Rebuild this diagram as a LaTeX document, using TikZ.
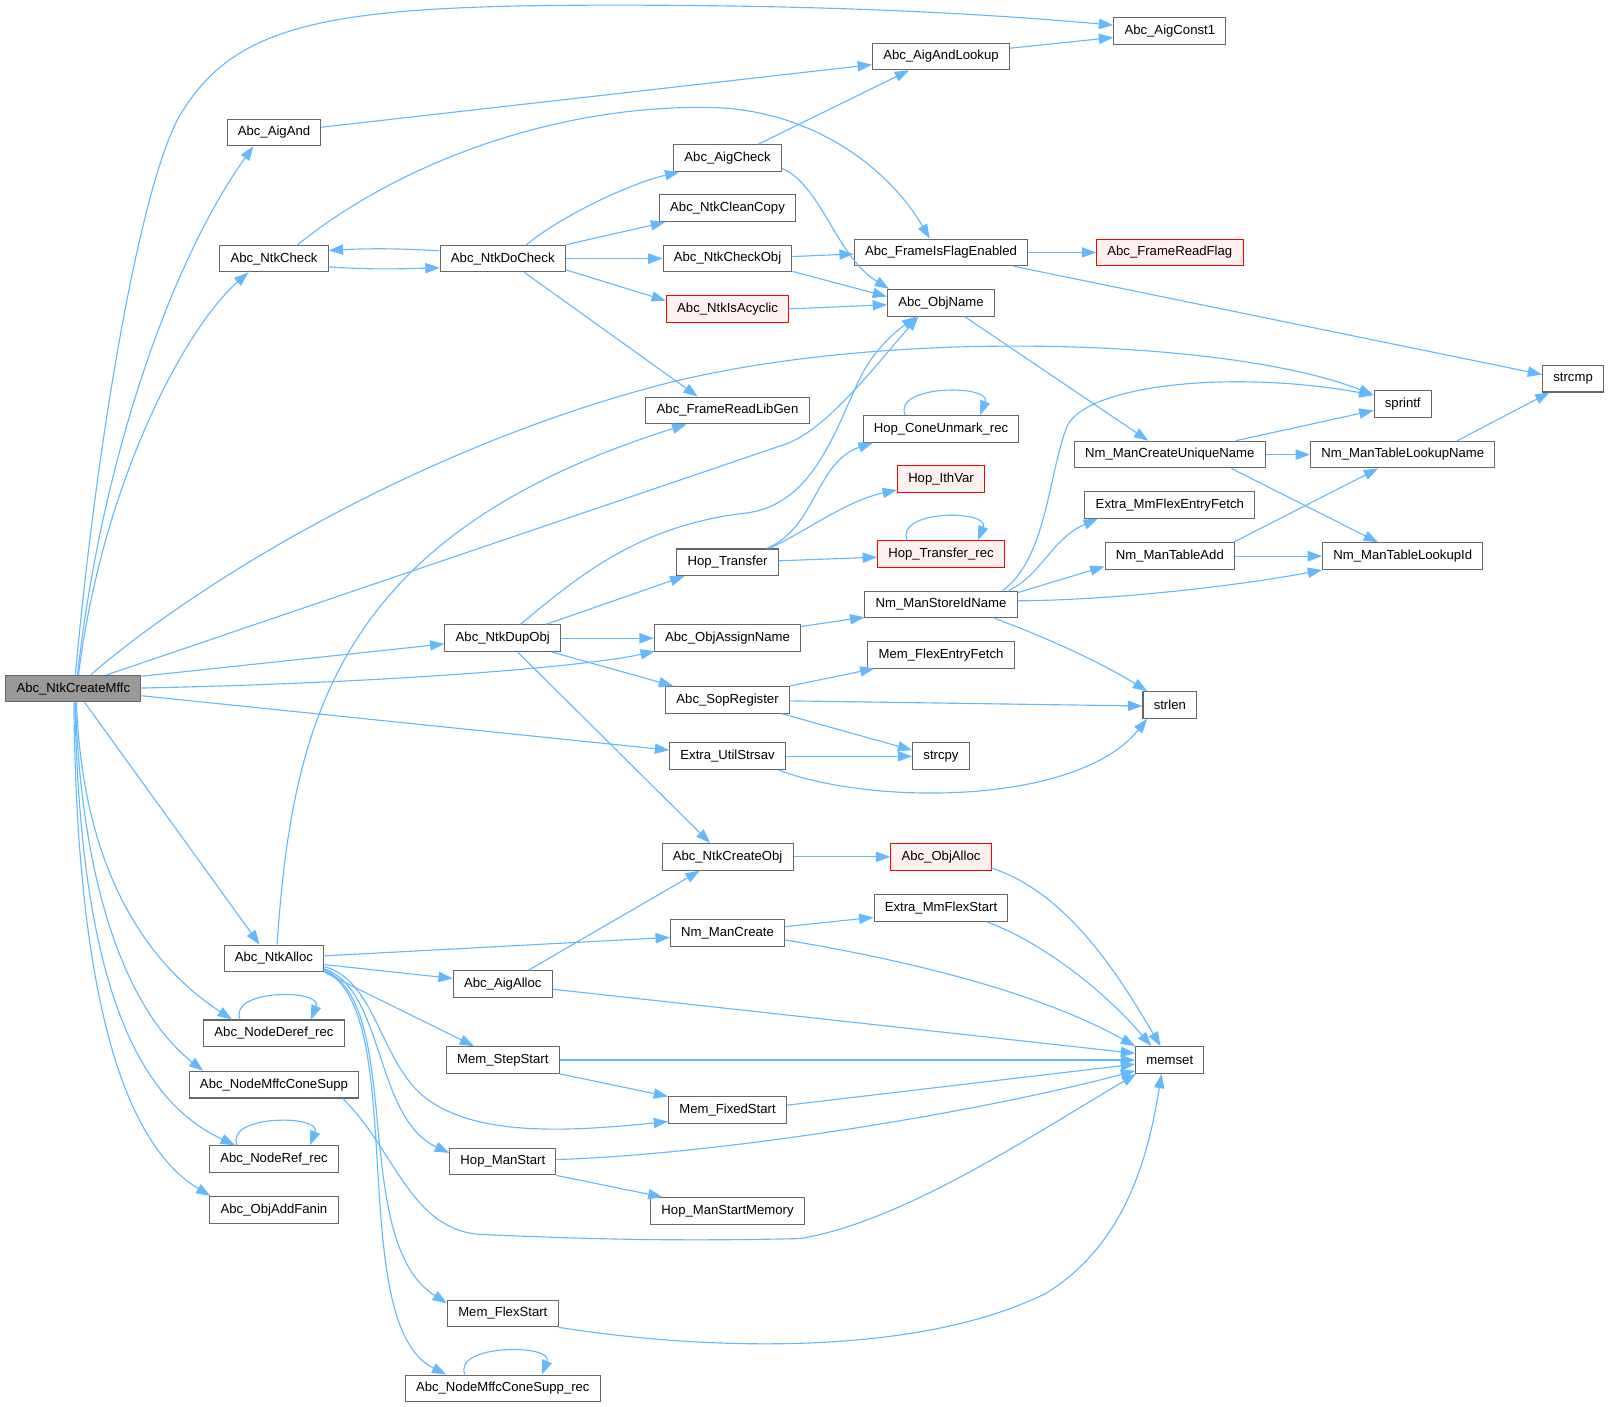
\documentclass[tikz,border=0pt]{standalone}
\usepackage{fontspec}
\setmainfont{Liberation Sans}
\usetikzlibrary{arrows.meta,calc}
\definecolor{eblue}{HTML}{63B8FF}
\definecolor{bgray}{HTML}{666666}
\definecolor{rootfill}{HTML}{999999}
\definecolor{redfill}{HTML}{FFF0F0}
\begin{document}
\begin{tikzpicture}[x=1pt,y=-1pt,
 fn/.style={draw=bgray, fill=white, line width=1pt, minimum height=26pt, inner xsep=10.5pt, inner ysep=0pt, font=\fontsize{12.8}{15}\selectfont, text=black},
 hot/.style={fn, draw=red, fill=redfill},
 root/.style={fn, fill=rootfill},
 cedge/.style={draw=eblue, line width=1.1pt, -{Triangle[length=14pt,width=10pt]}},
]
\useasboundingbox (0,0) rectangle (1568,1371);
% column 0
\node[root] (mffc) at (71.5,671) {Abc\_NtkCreateMffc};
% column 1
\node[fn] (aigand) at (267,129) {Abc\_AigAnd};
\node[fn] (ntkcheck) at (267,252) {Abc\_NtkCheck};
\node[fn] (ntkalloc) at (267,934) {Abc\_NtkAlloc};
\node[fn] (deref) at (267,1007) {Abc\_NodeDeref\_rec};
\node[fn] (conesupp) at (267,1057) {Abc\_NodeMffcConeSupp};
\node[fn] (noderef) at (267,1129.5) {Abc\_NodeRef\_rec};
\node[fn] (addfanin) at (267,1179) {Abc\_ObjAddFanin};
% column 2
\node[fn] (docheck) at (490,252) {Abc\_NtkDoCheck};
\node[fn] (dupobj) at (490,622) {Abc\_NtkDupObj};
\node[fn] (aigalloc) at (490,959) {Abc\_AigAlloc};
\node[fn] (stepstart) at (490,1033) {Mem\_StepStart};
\node[fn] (hopmanstart) at (490,1132) {Hop\_ManStart};
\node[fn] (flexstart) at (490,1280) {Mem\_FlexStart};
\node[fn] (conesupprec) at (490,1353) {Abc\_NodeMffcConeSupp\_rec};
% column 3
\node[fn] (aigcheck) at (709,154) {Abc\_AigCheck};
\node[fn] (cleancopy) at (709,203) {Abc\_NtkCleanCopy};
\node[fn] (checkobj) at (709,252) {Abc\_NtkCheckObj};
\node[hot] (acyclic) at (709,301) {Abc\_NtkIsAcyclic};
\node[fn] (libgen) at (709,400) {Abc\_FrameReadLibGen};
\node[fn] (transfer) at (709,548) {Hop\_Transfer};
\node[fn] (assign) at (709,622) {Abc\_ObjAssignName};
\node[fn] (sop) at (709,682) {Abc\_SopRegister};
\node[fn] (strsav) at (709,737) {Extra\_UtilStrsav};
\node[fn] (createobj) at (709,835) {Abc\_NtkCreateObj};
\node[fn] (nmcreate) at (709,909) {Nm\_ManCreate};
\node[fn] (fixedstart) at (709,1082) {Mem\_FixedStart};
\node[fn] (hopmem) at (709,1180) {Hop\_ManStartMemory};
% column 4
\node[fn] (andlookup) at (917,55) {Abc\_AigAndLookup};
\node[fn] (flagen) at (917,246) {Abc\_FrameIsFlagEnabled};
\node[fn] (objname) at (917,295) {Abc\_ObjName};
\node[fn] (coneunmark) at (917,418) {Hop\_ConeUnmark\_rec};
\node[hot] (ithvar) at (917,467) {Hop\_IthVar};
\node[hot] (transrec) at (917,540) {Hop\_Transfer\_rec};
\node[fn] (storeid) at (917,589) {Nm\_ManStoreIdName};
\node[fn] (memflexfetch) at (917,638) {Mem\_FlexEntryFetch};
\node[fn] (strcpy) at (917,737) {strcpy};
\node[hot] (objalloc) at (917,835) {Abc\_ObjAlloc};
\node[fn] (mmflexstart) at (917,885) {Extra\_MmFlexStart};
% column 5
\node[fn] (const1) at (1140,30) {Abc\_AigConst1};
\node[hot] (readflag) at (1140,246) {Abc\_FrameReadFlag};
\node[fn] (uniq) at (1140,443) {Nm\_ManCreateUniqueName};
\node[fn] (flexfetch) at (1140,492) {Extra\_MmFlexEntryFetch};
\node[fn] (tableadd) at (1140,542) {Nm\_ManTableAdd};
\node[fn] (strlen) at (1140,687) {strlen};
\node[fn] (memset) at (1140,1033) {memset};
% column 6
\node[fn] (sprintf) at (1367,394) {sprintf};
\node[fn] (lookupname) at (1367,443) {Nm\_ManTableLookupName};
\node[fn] (lookupid) at (1367,542) {Nm\_ManTableLookupId};
% column 7
\node[fn] (strcmp) at (1533,369) {strcmp};

% edges from the root
\draw[cedge] ($(mffc.north)+(2,0)$) .. controls (95,420) and (140,160) .. (180,105) .. controls (235,20) and (330,5) .. (600,5) .. controls (850,5) and (1000,17) .. ($(const1.west)+(0,-5.5)$);
\draw[cedge] ($(mffc.north)+(4,0)$) .. controls (100,440) and (170,250) .. ($(aigand.south)+(-20,0)$);
\draw[cedge] ($(mffc.north)+(5,0)$) .. controls (100,470) and (180,320) .. ($(ntkcheck.south)+(-25,0)$);
\draw[cedge] ($(mffc.north)+(17,0)$) .. controls (190,570) and (400,440) .. (640,376) .. controls (860,318) and (1200,330) .. ($(sprintf.west)+(0,-9)$);
\draw[cedge] ($(mffc.north)+(33,0)$) -- (765,433) .. controls (805,419) and (850,360) .. ($(objname.south)+(-22,0)$);
\draw[cedge] ($(mffc.east)+(0,-12)$) -- ($(dupobj.west)+(0,5.5)$);
\draw[cedge] ($(mffc.east)+(0,-0.5)$) .. controls (400,665) and (580,648) .. ($(assign.south west)+(1,-1)$);
\draw[cedge] ($(mffc.east)+(0,7)$) -- ($(strsav.west)+(0,-6)$);
\draw[cedge] ($(mffc.south)+(11,0)$) -- ($(ntkalloc.north)+(-14,0)$);
\draw[cedge] ($(mffc.south)+(3,0)$) .. controls (80,830) and (130,930) .. ($(deref.north)+(-41,0)$);
\draw[cedge] ($(mffc.south)+(2,0)$) .. controls (80,880) and (130,990) .. ($(conesupp.north)+(-69,0)$);
\draw[cedge] ($(mffc.south)+(1.5,0)$) .. controls (78,950) and (130,1070) .. ($(noderef.north)+(-38,0)$);
\draw[cedge] ($(mffc.south)+(0.5,0)$) .. controls (75,1000) and (130,1120) .. ($(addfanin.north west)+(1,0)$);

% upper part
\draw[cedge] ($(aigand.east)+(0,-5)$) -- ($(andlookup.west)+(0,8)$);
\draw[cedge] ($(andlookup.east)+(0,-8)$) -- ($(const1.west)+(0,6.5)$);
\draw[cedge] ($(aigcheck.north)+(30,0)$) -- ($(andlookup.south)+(-31,0)$);
\draw[cedge] ($(aigcheck.east)+(0,10)$) .. controls (800,180) and (815,250) .. ($(objname.north west)+(2,0)$);
\draw[cedge] ($(ntkcheck.north)+(23,0)$) .. controls (400,150) and (560,100) .. (700,105) .. controls (800,110) and (870,170) .. ($(flagen.north)+(-11,0)$);
\draw[cedge] ($(ntkcheck.east)+(0,8)$) .. controls (360,263) and (390,262) .. ($(docheck.west)+(0,9)$);
\draw[cedge] ($(docheck.west)+(0,-7.5)$) .. controls (390,242) and (360,242) .. ($(ntkcheck.east)+(0,-8)$);
\draw[cedge] ($(docheck.north)+(23,0)$) .. controls (545,212) and (610,180) .. ($(aigcheck.south west)+(6,0)$);
\draw[cedge] (docheck.north east) -- ($(cleancopy.south west)+(6,0)$);
\draw[cedge] (docheck.east) -- (checkobj.west);
\draw[cedge] ($(docheck.east)+(0,11)$) -- ($(acyclic.west)+(0,-8)$);
\draw[cedge] ($(docheck.south)+(21,0)$) -- ($(libgen.north)+(-29,0)$);
\draw[cedge] ($(checkobj.east)+(0,-2)$) -- ($(flagen.west)+(0,1.5)$);
\draw[cedge] ($(checkobj.south east)+(0,-1)$) -- ($(objname.west)+(0,-6)$);
\draw[cedge] (acyclic.east) -- ($(objname.west)+(0,2)$);
\draw[cedge] (flagen.east) -- (readflag.west);
\draw[cedge] ($(flagen.south east)+(-14,0)$) -- ($(strcmp.west)+(0,-4)$);
\draw[cedge] ($(objname.south)+(23,0)$) -- ($(uniq.north)+(-21,0)$);
\draw[cedge] ($(uniq.north)+(64,0)$) -- ($(sprintf.west)+(0,6)$);
\draw[cedge] (uniq.east) -- (lookupname.west);
\draw[cedge] ($(uniq.south)+(60,0)$) -- ($(lookupid.north)+(-24,0)$);
\draw[cedge] ($(lookupname.north)+(53,0)$) -- ($(strcmp.south)+(-23,0)$);

% middle part
\draw[cedge] ($(coneunmark.north)+(-35,0)$) .. controls +(-12,-30) and +(12,-30) .. ($(coneunmark.north)+(38,0)$);
\draw[cedge] ($(transfer.north)+(38,0)$) .. controls (795,515) and (795,450) .. ($(coneunmark.south west)+(10,0)$);
\draw[cedge] ($(transfer.north)+(41,0)$) .. controls (790,515) and (825,488) .. ($(ithvar.south west)+(0,-3)$);
\draw[cedge] ($(transfer.east)+(0,-1.5)$) -- ($(transrec.west)+(0,3)$);
\draw[cedge] ($(transrec.north)+(-33,0)$) .. controls +(-12,-30) and +(12,-30) .. ($(transrec.north)+(36,0)$);
\draw[cedge] ($(storeid.north)+(60,0)$) .. controls (1020,545) and (1022,460) .. (1040,415) .. controls (1060,375) and (1200,360) .. ($(sprintf.west)+(0,-9)$);
\draw[cedge] ($(storeid.north)+(66,0)$) .. controls (1015,560) and (1025,525) .. ($(flexfetch.south west)+(13,0)$);
\draw[cedge] ($(storeid.north east)+(0,2)$) -- ($(tableadd.west)+(0,10)$);
\draw[cedge] ($(storeid.east)+(0,-3.5)$) .. controls (1080,585) and (1200,572) .. (lookupid.south west);
\draw[cedge] ($(storeid.south)+(52,0)$) .. controls (1030,625) and (1080,650) .. ($(strlen.north)+(-22,0)$);
\draw[cedge] ($(tableadd.north)+(62,0)$) -- ($(lookupname.south)+(-24,0)$);
\draw[cedge] (tableadd.east) -- (lookupid.west);
\draw[cedge] ($(dupobj.north)+(17,0)$) .. controls (560,565) and (620,512) .. (727,500) .. controls (790,492) and (812,425) .. (835,375) .. controls (848,345) and (870,325) .. ($(objname.south)+(-24,0)$);
\draw[cedge] ($(dupobj.north)+(42,0)$) -- ($(transfer.south)+(-42,0)$);
\draw[cedge] (dupobj.east) -- (assign.west);
\draw[cedge] ($(dupobj.south)+(48,0)$) -- ($(sop.north)+(-53,0)$);
\draw[cedge] ($(dupobj.south)+(14.5,0)$) -- ($(createobj.north)+(-17,0)$);
\draw[cedge] ($(assign.north east)+(0,2)$) -- ($(storeid.south west)+(0,-1)$);
\draw[cedge] (sop.north east) -- ($(memflexfetch.south west)+(7,0)$);
\draw[cedge] ($(sop.east)+(0,1)$) -- ($(strlen.west)+(0,1)$);
\draw[cedge] ($(sop.south)+(53,0)$) -- ($(strcpy.west)+(0,-6)$);
\draw[cedge] (strsav.east) -- (strcpy.west);
\draw[cedge] ($(strsav.south)+(50,0)$) .. controls (850,785) and (1050,785) .. ($(strlen.south)+(-22,0)$);

% lower part
\draw[cedge] (createobj.east) -- (objalloc.west);
\draw[cedge] ($(objalloc.east)+(0,11)$) .. controls (1040,870) and (1090,950) .. ($(memset.north)+(-9,0)$);
\draw[cedge] ($(mmflexstart.south)+(45,0)$) .. controls (1020,920) and (1080,970) .. ($(memset.north)+(-18,0)$);
\draw[cedge] ($(nmcreate.east)+(0,-6)$) -- ($(mmflexstart.west)+(0,9)$);
\draw[cedge] ($(nmcreate.east)+(0,7)$) .. controls (850,930) and (1000,960) .. (memset.north west);
\draw[cedge] ($(ntkalloc.north)+(3,0)$) .. controls (285,700) and (330,520) .. ($(libgen.south)+(-40,0)$);
\draw[cedge] ($(ntkalloc.east)+(0,-2.5)$) -- ($(nmcreate.west)+(0,4.5)$);
\draw[cedge] ($(ntkalloc.east)+(0,6)$) -- ($(aigalloc.west)+(0,-5.5)$);
\draw[cedge] (ntkalloc.south east) -- ($(stepstart.north)+(-28,0)$);
\draw[cedge] ($(ntkalloc.east)+(0,8)$) .. controls (365,955) and (370,1030) .. (410,1066) .. controls (460,1110) and (560,1102) .. ($(fixedstart.west)+(0,11)$);
\draw[cedge] ($(ntkalloc.east)+(0,10)$) .. controls (375,965) and (365,1090) .. ($(hopmanstart.west)+(0,-8.5)$);
\draw[cedge] ($(ntkalloc.east)+(0,11)$) .. controls (395,980) and (340,1210) .. ($(flexstart.west)+(0,-10)$);
\draw[cedge] ($(ntkalloc.east)+(0,12)$) .. controls (400,985) and (335,1290) .. ($(conesupprec.north)+(-55,0)$);
\draw[cedge] ($(aigalloc.north)+(25,0)$) -- ($(createobj.south)+(-27,0)$);
\draw[cedge] ($(aigalloc.east)+(0,5)$) -- ($(memset.west)+(0,-6.5)$);
\draw[cedge] ($(deref.north)+(-33,0)$) .. controls +(-12,-30) and +(12,-30) .. ($(deref.north)+(36,0)$);
\draw[cedge] (stepstart.east) -- (memset.west);
\draw[cedge] (stepstart.south east) -- (fixedstart.north west);
\draw[cedge] ($(conesupp.south)+(67,0)$) .. controls (385,1120) and (400,1200) .. (470,1203) .. controls (560,1207) and (650,1210) .. (780,1207) .. controls (880,1190) and (1000,1110) .. ($(memset.south west)+(1,0)$);
\draw[cedge] ($(fixedstart.east)+(0,-5)$) -- ($(memset.west)+(0,4)$);
\draw[cedge] ($(noderef.north)+(-36,0)$) .. controls +(-12,-30) and +(12,-30) .. ($(noderef.north)+(35,0)$);
\draw[cedge] ($(hopmanstart.east)+(0,-2)$) .. controls (700,1125) and (950,1085) .. ($(memset.south west)+(0,-3)$);
\draw[cedge] (hopmanstart.south east) -- ($(hopmem.north west)+(12,0)$);
\draw[cedge] (flexstart.south east) .. controls (700,1318) and (900,1320) .. (1020,1260) .. controls (1100,1210) and (1120,1120) .. ($(memset.south)+(-8,0)$);
\draw[cedge] ($(conesupprec.north)+(-37,0)$) .. controls +(-12,-30) and +(12,-30) .. ($(conesupprec.north)+(38,0)$);
\end{tikzpicture}
\end{document}
